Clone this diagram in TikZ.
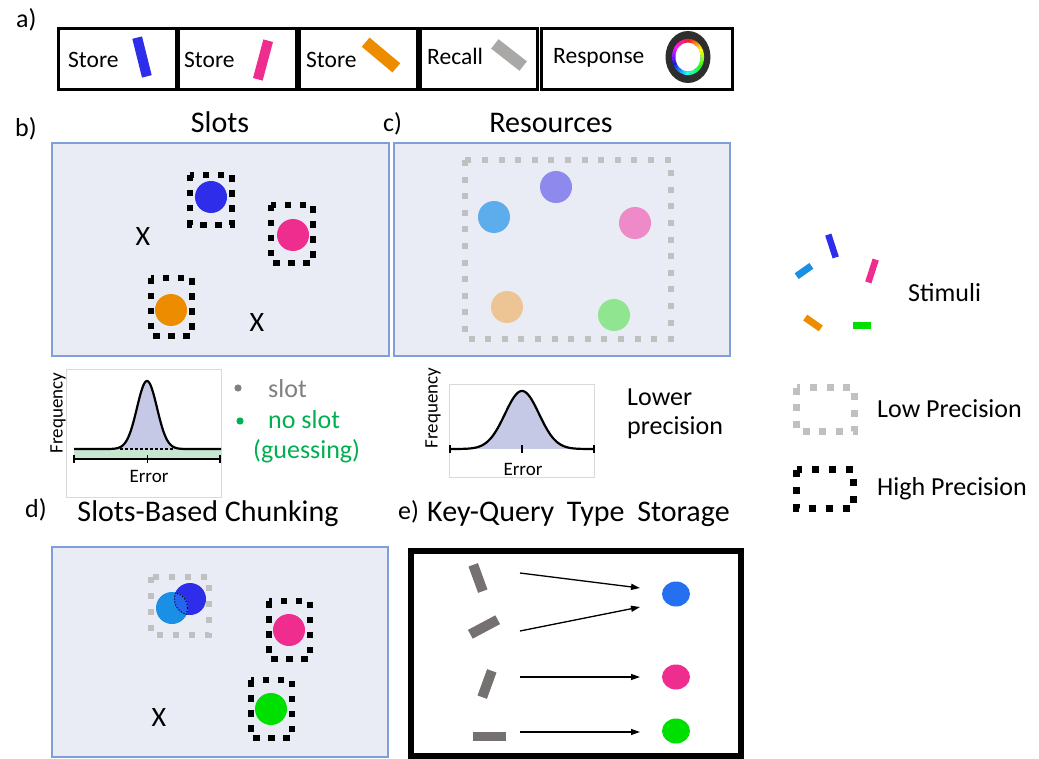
\documentclass[tikz,border=0pt]{standalone}
\usepackage{fontspec}
\setmainfont{Carlito}
\usetikzlibrary{arrows.meta,shapes.geometric}

\definecolor{panelfill}{HTML}{E9EBF5}
\definecolor{panelline}{HTML}{7F9FD8}
\definecolor{lowgrey}{HTML}{C0C0C0}
\definecolor{cBlue}{HTML}{2D2DEA}
\definecolor{cPink}{HTML}{EE2D8F}
\definecolor{cOrange}{HTML}{EE8C00}
\definecolor{cGreen}{HTML}{00E000}
\definecolor{cCyan}{HTML}{1A8FE6}
\definecolor{cMid}{HTML}{2566EE}
\definecolor{recallgrey}{HTML}{AAA7A7}
\definecolor{keygrey}{HTML}{767171}
\definecolor{ringdark}{HTML}{2E2E2E}
\definecolor{pPurple}{HTML}{8E89EC}
\definecolor{pBlue}{HTML}{5DADEC}
\definecolor{pPink}{HTML}{EE8AC7}
\definecolor{pOrange}{HTML}{EDC493}
\definecolor{pGreen}{HTML}{90E590}
\definecolor{eBlue}{HTML}{2470F0}
\definecolor{lav}{HTML}{C6C9E6}
\definecolor{bandgreen}{HTML}{C7E6CF}
\definecolor{slotgrey}{HTML}{808080}
\definecolor{slotgreen}{HTML}{00B050}
\definecolor{framegrey}{HTML}{D9D9D9}

\begin{document}
\begin{tikzpicture}[x=1pt,y=-1pt,
  panel/.style={fill=panelfill, draw=panelline, line width=1.4},
  trial/.style={draw=black, line width=3},
  hipre/.style={draw=black, line width=6.5, dash pattern=on 6.5 off 8.5},
  lopre/.style={draw=lowgrey, line width=6.5, dash pattern=on 6.5 off 10},
  bar/.style={rectangle, inner sep=0, draw=none},
  dot/.style={circle, inner sep=0, minimum size=32},
  edot/.style={ellipse, inner sep=0, minimum width=28, minimum height=25},
  lbl/.style={inner sep=0, anchor=base west, font=\fontsize{26}{30}\selectfont},
  ttl/.style={inner sep=0, anchor=base, font=\fontsize{30}{34}\selectfont},
  cue/.style={inner sep=0, anchor=base west, font=\fontsize{23.5}{28}\selectfont},
  axl/.style={inner sep=0, font=\fontsize{19}{22}\selectfont},
  cross/.style={inner sep=0, font=\fontsize{28}{32}\selectfont},
  curve/.style={line width=2.2, line join=round},
  arr/.style={line width=1.3, -{Triangle[length=9,width=6]}}
]
\useasboundingbox (0,0) rectangle (1039,759);

% ---------------- a) trial sequence ----------------
\node[lbl] (la) at (16,28) {a)};
\draw[trial] (58,29) rectangle (176,90);
\draw[trial] (178,29) rectangle (296,90);
\draw[trial] (299,29) rectangle (417,90);
\draw[trial] (420,29) rectangle (537,90);
\draw[trial] (541,29) rectangle (732,90);
\node[cue] (s1) at (68,68) {Store};
\node[cue] (s2) at (184,68) {Store};
\node[cue] (s3) at (306,68) {Store};
\node[cue] (s4) at (427,65) {Recall};
\node[cue] (s5) at (553,64) {Response};
\node[bar, fill=cBlue, minimum width=10, minimum height=40, rotate=14] (b1) at (142,57) {};
\node[bar, fill=cPink, minimum width=10, minimum height=40, rotate=-15] (b2) at (263,60) {};
\node[bar, fill=cOrange, minimum width=40, minimum height=12, rotate=-40] (b3) at (381,55) {};
\node[bar, fill=recallgrey, minimum width=36, minimum height=12, rotate=-38] (b4) at (509,55) {};
% colour wheel
\fill[ringdark] (688,57) ellipse[x radius=22.5, y radius=26];
\foreach \a in {0,10,...,350}{
  \pgfmathtruncatemacro\hh{mod(\a+90,360)}
  \definecolor{hc}{Hsb}{\hh,0.9,1}
  \draw[hc, line width=3.6] (688,57) ++(\a:14.3 and 16.3)
    arc[start angle=\a, end angle=\a+11, x radius=14.3, y radius=16.3];
}
\fill[white] (688,57) ellipse[x radius=12.5, y radius=14.5];

% ---------------- b) slots ----------------
\node[lbl] (lb) at (15,137) {b)};
\node[ttl] (tb) at (220,133) {Slots};
\draw[panel] (52,143) rectangle (389,356);
\draw[hipre] (190,175) rectangle (232,225);
\draw[hipre] (271,205) rectangle (313,263);
\draw[hipre] (151,278) rectangle (192,336);
\node[dot, fill=cBlue] (bb) at (211,197) {};
\node[dot, fill=cPink] (bp) at (293,235) {};
\node[dot, fill=cOrange] (bo) at (171,310) {};
\node[cross] (x1) at (143,237) {X};
\node[cross] (x2) at (257,323) {X};

% slots error distribution
\draw[framegrey, line width=0.8] (66,369) rectangle (221,497);
\fill[bandgreen] (74,449) rectangle (221,459);
\fill[lav] plot[domain=108:186, samples=80] (\x,{449-68*exp(-(\x-147)*(\x-147)/200)}) -- cycle;
\draw[line width=1.4, dash pattern=on 2.5 off 2.5] (120,449) -- (174,449);
\draw[curve] plot[domain=74:221, samples=160] (\x,{449-68*exp(-(\x-147)*(\x-147)/200)});
\draw[line width=2.4] (74,459) -- (221,459);
\foreach \t in {74,147.5,220}{ \draw[line width=1.6] (\t,455) -- (\t,463); }
\node[axl, rotate=90] (fb) at (58,413) {Frequency};
\node[axl] (eb) at (149,476) {Error};
\fill[slotgrey] (238,388) circle[radius=3.6];
\node[lbl, text=slotgrey] (ks) at (268,397) {slot};
\fill[slotgreen] (240,421) circle[radius=3.6];
\node[lbl, text=slotgreen] (kn) at (268,428) {no slot};
\node[lbl, text=slotgreen] (kg) at (253,458) {(guessing)};

% ---------------- c) resources ----------------
\node[lbl] (lc) at (383,132) {c)};
\node[ttl] (tc) at (551,133) {Resources};
\draw[panel] (394,143) rectangle (730,356);
\draw[lopre, line width=6, dash pattern=on 6 off 10.6] (465,160) rectangle (671,339);
\node[dot, fill=pPurple] (cpu) at (556,187) {};
\node[dot, fill=pBlue] (cbl) at (494,217) {};
\node[dot, fill=pPink] (cpi) at (635,223) {};
\node[dot, fill=pOrange] (cor) at (507,307) {};
\node[dot, fill=pGreen] (cgr) at (614,315) {};

% resources error distribution
\draw[framegrey, line width=0.8] (449,384) rectangle (594,477);
\fill[lav] plot[domain=450:594, samples=120] (\x,{449-58*exp(-(\x-522)*(\x-522)/578)}) -- cycle;
\draw[curve] plot[domain=450:594, samples=160] (\x,{449-58*exp(-(\x-522)*(\x-522)/578)});
\foreach \t in {450,522,594}{ \draw[line width=1.6] (\t,445) -- (\t,453); }
\node[axl, rotate=90] (fc) at (433,408) {Frequency};
\node[axl] (ec) at (523,469) {Error};
\node[lbl] (lp1) at (627,405) {Lower};
\node[lbl] (lp2) at (627,434) {precision};

% ---------------- legend ----------------
\node[bar, fill=cBlue, minimum width=6.5, minimum height=24, rotate=18] (g1) at (832,246) {};
\node[bar, fill=cCyan, minimum width=18, minimum height=7, rotate=35] (g2) at (804,271) {};
\node[bar, fill=cPink, minimum width=6.5, minimum height=24, rotate=-18] (g3) at (872,271) {};
\node[bar, fill=cOrange, minimum width=19, minimum height=7, rotate=-35] (g4) at (813,323) {};
\node[bar, fill=cGreen, minimum width=18, minimum height=7] (g5) at (862,326) {};
\node[lbl] (ls) at (908,302) {Stimuli};
\draw[lopre, line width=7, dash pattern=on 7 off 9.7] (796.5,387.5) rectangle (854.5,431.5);
\node[lbl] (ll) at (877,417) {Low Precision};
\draw[hipre, line width=7, dash pattern=on 7 off 10] (796.5,469.5) rectangle (853.5,508.5);
\node[lbl] (lh) at (877,495) {High Precision};

% ---------------- d) slots-based chunking ----------------
\node[lbl] (ld) at (25,517) {d)};
\node[ttl] (td) at (208,521) {Slots-Based Chunking};
\draw[panel] (52,547) rectangle (388,757);
\draw[lopre, line width=6, dash pattern=on 6 off 10] (151,577) rectangle (209,635);
\draw[hipre] (269,601) rectangle (310,659);
\draw[hipre] (251,680) rectangle (292,738);
\node[dot, fill=cCyan] (dc) at (172,608) {};
\node[dot, fill=cBlue] (db) at (190,599) {};
\begin{scope}
  \clip (172,608) circle[radius=16];
  \fill[cMid] (190,599) circle[radius=16];
  \draw[line width=1, dotted] (190,599) circle[radius=15.5];
\end{scope}
\begin{scope}
  \clip (190,599) circle[radius=16];
  \draw[line width=1, dotted] (172,608) circle[radius=15.5];
\end{scope}
\node[dot, fill=cPink] (dp) at (289,630) {};
\node[dot, fill=cGreen] (dg) at (271,709) {};
\node[cross] (x3) at (159,718) {X};

% ---------------- e) key-query storage ----------------
\node[lbl] (le) at (398,519) {e)};
\node[ttl, anchor=base west] (te) at (427,521) {Key-Query\hspace{6pt} Type\hspace{6pt} Storage};
\draw[line width=6] (411,551) rectangle (741,756);
\node[bar, fill=keygrey, minimum width=10, minimum height=28, rotate=20] (k1) at (478,578) {};
\node[bar, fill=keygrey, minimum width=31, minimum height=10, rotate=28] (k2) at (484,627) {};
\node[bar, fill=keygrey, minimum width=10, minimum height=28, rotate=-20] (k3) at (487,684) {};
\node[bar, fill=keygrey, minimum width=33, minimum height=9] (k4) at (489,736) {};
\node[edot, fill=eBlue] (v1) at (676,594) {};
\node[edot, fill=cPink] (v2) at (676,677) {};
\node[edot, fill=cGreen] (v3) at (676,731) {};
\coordinate (k1o) at (520,573);
\coordinate (k2o) at (520,631);
\coordinate (k3o) at (520,677);
\coordinate (k4o) at (520,732);
\coordinate (v1a) at (640,588);
\coordinate (v1b) at (640,607);
\coordinate (v2a) at (640,677);
\coordinate (v3a) at (640,732);
\draw[arr] (k1o) -- (v1a);
\draw[arr] (k2o) -- (v1b);
\draw[arr] (k3o) -- (v2a);
\draw[arr] (k4o) -- (v3a);
\end{tikzpicture}
\end{document}
